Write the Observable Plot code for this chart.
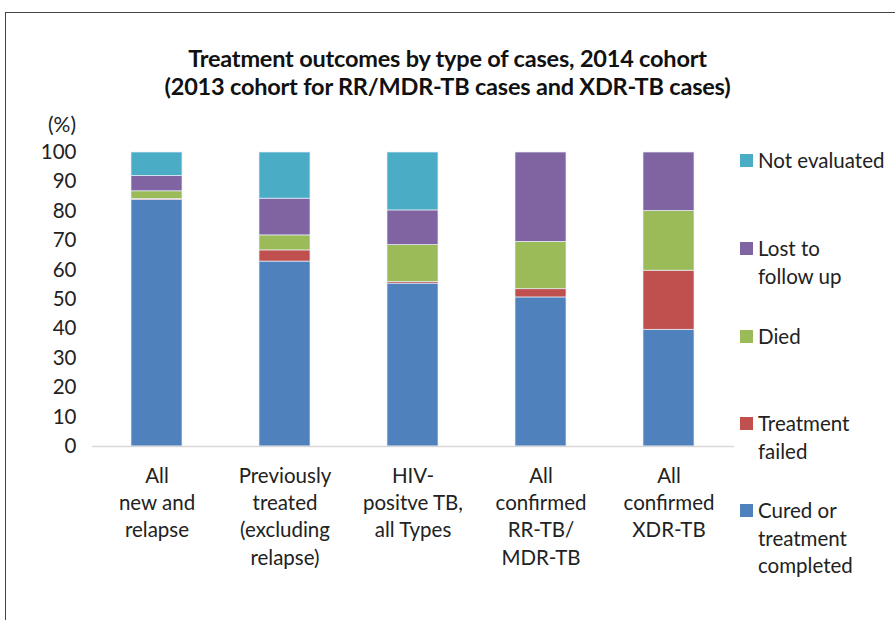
<!DOCTYPE html>
<html>
<head>
<meta charset="utf-8">
<script src="https://cdn.jsdelivr.net/npm/d3@7"></script>
<script src="https://cdn.jsdelivr.net/npm/@observablehq/plot@0.6"></script>
<style>
  html, body { margin: 0; padding: 0; background: #fff; }
  #wrap { position: relative; width: 895px; height: 620px; overflow: hidden; font-family: Lato, "Open Sans", sans-serif; color: #222; }
  #frame { position: absolute; left: 5px; top: 12px; width: 1000px; height: 700px; border: 1.5px solid #444; box-sizing: border-box; }
  #title { position: absolute; left: 0; width: 895px; top: 44px; text-align: center; font-weight: 700; font-size: 23.5px; line-height: 28px; color: #111; letter-spacing: -0.2px; }
  #unit { position: absolute; left: 0; width: 76px; text-align: right; top: 111px; font-size: 21px; }
  #legend { position: absolute; left: 740px; top: 0; font-size: 20.5px; line-height: 27.5px; }
  .item { position: absolute; left: 0; white-space: nowrap; }
  .sw { position: absolute; left: 0; top: 7px; width: 13px; height: 13px; }
  .lab { position: absolute; left: 18px; top: 0; }
  svg { position: absolute; left: 0; top: 0; }
</style>
</head>
<body>
<div id="wrap">
  <div id="frame"></div>
  <div id="chart"></div>
  <div id="title">Treatment outcomes by type of cases, 2014 cohort<br>(2013 cohort for RR/MDR-TB cases and XDR-TB cases)</div>
  <div id="unit">(%)</div>
  <div id="legend"></div>
</div>
<script>
const categories = [
  "All\nnew and\nrelapse",
  "Previously\ntreated\n(excluding\nrelapse)",
  "HIV-\npositve TB,\nall Types",
  "All\nconfirmed\nRR-TB/\nMDR-TB",
  "All\nconfirmed\nXDR-TB"
];
const outcomes = ["Cured or treatment completed", "Treatment failed", "Died", "Lost to follow up", "Not evaluated"];
const legendLabels = ["Cured or\ntreatment\ncompleted", "Treatment\nfailed", "Died", "Lost to\nfollow up", "Not evaluated"];
const colors = ["#4F81BD", "#C0504D", "#9BBB59", "#8064A2", "#4BACC6"];

const cured        = [83.8, 62.9, 55.4, 50.7, 39.7];
const failed       = [0.4, 3.8, 0.5, 2.8, 20.1];
const died         = [2.6, 5.1, 12.6, 16.1, 20.3];
const lost         = [5.2, 12.5, 11.8, 30.4, 19.9];
const notEvaluated = [8.0, 15.7, 19.7, 0, 0];
const yTicks = [0, 10, 20, 30, 40, 50, 60, 70, 80, 90, 100];

const series = [cured, failed, died, lost, notEvaluated];
const table = [];
categories.forEach((c, i) => {
  outcomes.forEach((o, j) => table.push({category: c, outcome: o, value: series[j][i]}));
});

const plot = Plot.plot({
  width: 895,
  height: 620,
  marginLeft: 92,
  marginRight: 161,
  marginTop: 152,
  marginBottom: 174,
  style: {fontFamily: "Lato, 'Open Sans', sans-serif", fontSize: "20.5px", color: "#222", background: "transparent"},
  x: {domain: categories, paddingInner: 0.6, paddingOuter: 0.3},
  y: {domain: [0, 100]},
  color: {domain: outcomes, range: colors},
  marks: [
    Plot.barY(table, Plot.stackY({order: outcomes}, {x: "category", y: "value", fill: "outcome", stroke: "#e8eef8", strokeWidth: 0.7})),
    Plot.ruleY([0], {stroke: "#d9d9d9", strokeWidth: 1.5}),
    Plot.ruleX([0], {frameAnchor: "left", y1: 0, y2: 100, stroke: "#d9d9d9", strokeWidth: 1.5}),
    Plot.axisY({ticks: yTicks, tickSize: 0, tickPadding: 16, label: null, fill: "#222", fontSize: 20.5}),
    Plot.axisX({tickSize: 0, tickPadding: 17, label: null, lineHeight: 1.33, fill: "#222", fontSize: 20.5})
  ]
});
document.getElementById("chart").appendChild(plot);

// Legend (HTML, positioned next to the plot)
const legendTops = {"Not evaluated": 147, "Lost to follow up": 235, "Died": 323, "Treatment failed": 410, "Cured or treatment completed": 497};
const legend = document.getElementById("legend");
[...outcomes].reverse().forEach(o => {
  const j = outcomes.indexOf(o);
  const item = document.createElement("div");
  item.className = "item";
  item.style.top = legendTops[o] + "px";
  item.innerHTML = `<div class="sw" style="background:${colors[j]}"></div><div class="lab">${legendLabels[j].replace(/\n/g, "<br>")}</div>`;
  legend.appendChild(item);
});
</script>
</body>
</html>
